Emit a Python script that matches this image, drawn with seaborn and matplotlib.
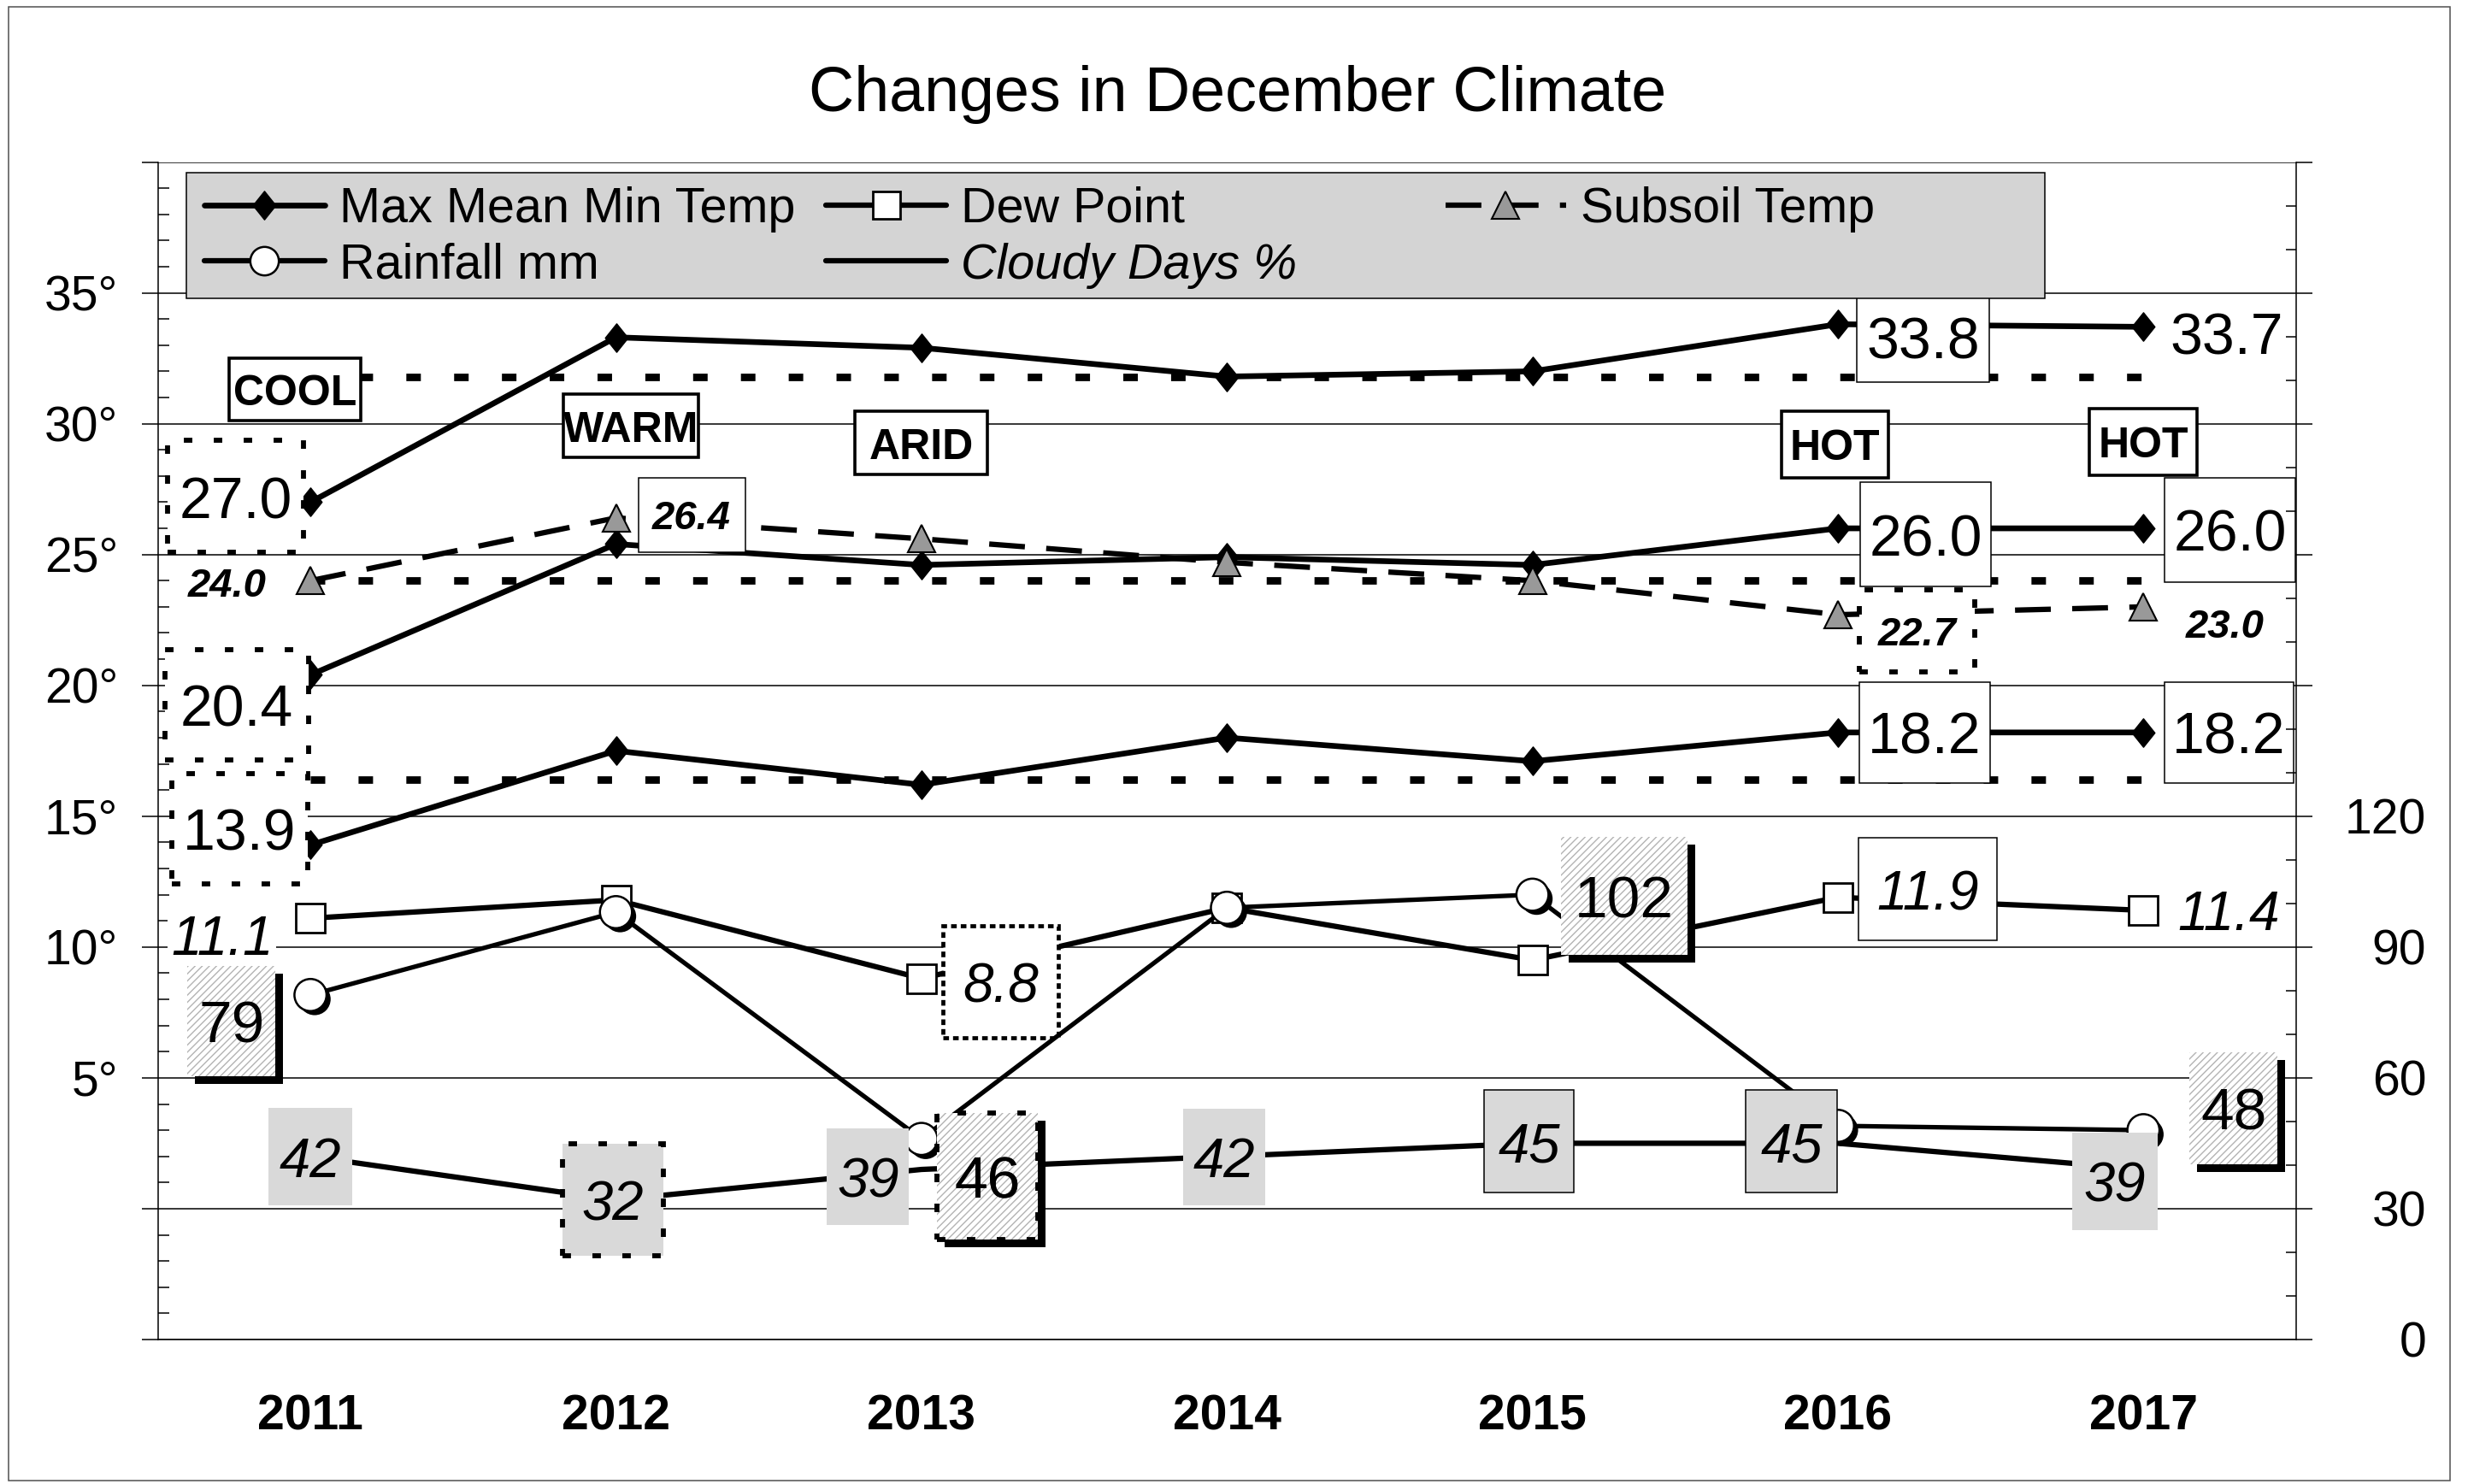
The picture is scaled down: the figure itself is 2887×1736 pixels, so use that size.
import numpy as np
import pandas as pd
import matplotlib
matplotlib.use("Agg")
import matplotlib.pyplot as plt
import seaborn as sns
from matplotlib.lines import Line2D
from matplotlib.path import Path
from matplotlib.patches import Rectangle
from matplotlib.ticker import MultipleLocator
import matplotlib.patheffects as pe

# ---------------- data ----------------
years = ["2011", "2012", "2013", "2014", "2015", "2016", "2017"]
max_temp = [27.0, 33.3, 32.9, 31.8, 32.0, 33.8, 33.7]
mean_temp = [20.4, 25.4, 24.6, 24.9, 24.6, 26.0, 26.0]
min_temp = [13.9, 17.5, 16.2, 18.0, 17.1, 18.2, 18.2]
subsoil_temp = [24.0, 26.4, 25.6, 24.7, 24.0, 22.7, 23.0]
dew_point = [11.1, 11.8, 8.8, 11.5, 9.5, 11.9, 11.4]
rainfall_mm = [79, 98, 46, 99, 102, 49, 48]
cloudy_pct = [42, 32, 39, 42, 45, 45, 39]
normal_levels = [31.8, 24.0, 16.4]
season_tags = ["COOL", "WARM", "ARID", "HOT", "HOT"]
left_tick_values = [-5, 0, 5, 10, 15, 20, 25, 30, 35, 40]
left_tick_labels = ["", "", "5°", "10°", "15°", "20°", "25°", "30°", "35°", ""]
right_tick_values = [0, 30, 60, 90, 120, 150, 180, 210, 240, 270]
right_tick_labels = ["0", "30", "60", "90", "120", "", "", "", "", ""]
legend_labels = ["Max Mean Min Temp", "Rainfall mm", "Dew Point", "Cloudy Days %", "Subsoil Temp"]
title = "Changes in December Climate"

# ---------------- style ----------------
sns.set_theme(style="white")
plt.rcParams["font.family"] = ["Liberation Sans", "DejaVu Sans"]
plt.rcParams["text.color"] = "black"
plt.rcParams["axes.edgecolor"] = "black"
plt.rcParams["xtick.color"] = "black"
plt.rcParams["ytick.color"] = "black"
plt.rcParams["hatch.linewidth"] = 1.0
plt.rcParams["patch.force_edgecolor"] = False

FW, FH = 2887, 1736
fig = plt.figure(figsize=(FW / 100, FH / 100), dpi=100, facecolor="white")
L, R, T, B = 184.5, 2686, 189.5, 1567
ax = fig.add_axes([L / FW, 1 - B / FH, (R - L) / FW, (B - T) / FH])
ax.set_facecolor("white")
ax2 = ax.twinx()
x = np.arange(len(years))

# ---------------- series ----------------
diamond = Path([(0, 1), (0.8, 0), (0, -1), (-0.8, 0), (0, 1)],
               [Path.MOVETO, Path.LINETO, Path.LINETO, Path.LINETO, Path.CLOSEPOLY])
temp_kw = dict(color="black", linewidth=4.8, marker=diamond, markersize=24,
               markerfacecolor="black", markeredgecolor="black", markeredgewidth=1, zorder=3)

ax.hlines(normal_levels, x[0], x[-1], colors="black", linewidth=6.3,
          linestyles=[(0, (1.94, 4.45))], zorder=2.5)

for series in (max_temp, mean_temp, min_temp):
    sns.lineplot(x=x, y=series, ax=ax, legend=False, **temp_kw)

sns.lineplot(x=x, y=dew_point, ax=ax, legend=False, color="black", linewidth=4.5,
             marker="s", markersize=24, markerfacecolor="white", markeredgecolor="black",
             markeredgewidth=2, zorder=3)

sns.lineplot(x=x, y=subsoil_temp, ax=ax, legend=False, color="black", linewidth=4.5,
             marker="^", markersize=23, markerfacecolor="#999999", markeredgecolor="black",
             markeredgewidth=1.5, zorder=3)
ax.lines[-1].set_linestyle((0, (6.7, 4.0)))

sns.lineplot(x=x, y=cloudy_pct, ax=ax2, legend=False, color="black", linewidth=4.5, zorder=3)
sns.lineplot(x=x, y=rainfall_mm, ax=ax2, legend=False, color="black", linewidth=3.8, zorder=3)
sns.scatterplot(x=x, y=rainfall_mm, ax=ax2, legend=False, marker="o", s=27 ** 2,
                color="white", edgecolor="black", linewidth=1.8, zorder=4)
ax2.collections[-1].set_path_effects([
    pe.SimplePatchShadow(offset=(3.5, -3.5), shadow_rgbFace="black", alpha=1.0),
    pe.Normal()])

# ---------------- axes ----------------
ax.set_xlim(-0.5, len(years) - 0.5)
ax.set_ylim(-5, 40)
ax2.set_ylim(0, 270)

ax.set_xticks(x)
ax.set_xticklabels(years, fontweight="bold")
ax.set_xticks(np.arange(-0.5, len(years) + 0.5), minor=True)
ax.tick_params(axis="x", which="major", length=0, pad=46, labelsize=41)
ax.tick_params(axis="x", which="minor", length=13.3, width=1.1, direction="out")

ax.set_yticks(left_tick_values)
ax.set_yticklabels(left_tick_labels)
ax.yaxis.set_minor_locator(MultipleLocator(1))
ax.tick_params(axis="y", which="major", direction="out", length=13.5, width=1.1, pad=20, labelsize=41)
ax.tick_params(axis="y", which="minor", direction="in", length=9, width=1.1)

ax2.set_yticks(right_tick_values)
ax2.set_yticklabels(right_tick_labels, ha="right")
ax2.yaxis.set_minor_locator(MultipleLocator(10))
ax2.tick_params(axis="y", which="major", direction="out", length=13.7, width=1.1, pad=96, labelsize=41)
ax2.tick_params(axis="y", which="minor", direction="in", length=9, width=1.1)

ax.yaxis.grid(True, which="major", color="black", linewidth=1.1)
ax.xaxis.grid(False)
ax2.grid(False)
ax.set_axisbelow(True)
for s in ("top", "right"):
    ax.spines[s].set_visible(False)
for s in ("left", "bottom"):
    ax.spines[s].set_linewidth(1.1)
    ax.spines[s].set_color("black")
for s in ("top", "left", "bottom"):
    ax2.spines[s].set_visible(False)
ax2.spines["right"].set_linewidth(1.1)
ax2.spines["right"].set_color("black")
ax.set_xlabel("")
ax.set_ylabel("")
ax2.set_ylabel("")


# ---------------- data labels ----------------
def fixed_box(W, H):
    def _style(x0, y0, width, height, mutation_size):
        cx = x0 + width / 2.0
        cy = y0 + height / 2.0 + 0.105 * mutation_size
        verts = [(cx - W / 2, cy - H / 2), (cx + W / 2, cy - H / 2),
                 (cx + W / 2, cy + H / 2), (cx - W / 2, cy + H / 2), (cx - W / 2, cy - H / 2)]
        return Path(verts, [Path.MOVETO, Path.LINETO, Path.LINETO, Path.LINETO, Path.CLOSEPOLY])
    return _style


GRAY = "#d9d9d9"
HATCH_GRAY = "#b3b3b3"
DOTS = (0, (1.7, 4.3))
shadow = [pe.SimplePatchShadow(offset=(6.5, -6.5), shadow_rgbFace="black", alpha=1.0, hatch=None),
          pe.Normal()]


def box_props(kind, W, H):
    if kind == "none":
        return dict(boxstyle="square,pad=0.06", fc="white", ec="none")
    if kind == "thin":
        return dict(boxstyle=fixed_box(W, H), fc="white", ec="black", lw=1.1)
    if kind == "dotted":
        return dict(boxstyle=fixed_box(W, H), fc="white", ec="black", lw=4.2, ls=DOTS)
    if kind == "dashbw":
        return dict(boxstyle=fixed_box(W, H), fc="white", ec="black", lw=3.4, ls=(0, (1.4, 1.0)))
    if kind in ("hatch", "hatchdot"):
        # edge colour drives the hatch colour; zero width keeps the edge itself invisible
        return dict(boxstyle=fixed_box(W, H), fc="white", ec=HATCH_GRAY, lw=0, hatch="////",
                    path_effects=shadow)
    if kind == "gray":
        return dict(boxstyle=fixed_box(W, H), fc=GRAY, ec="none")
    if kind == "graythin":
        return dict(boxstyle=fixed_box(W, H), fc=GRAY, ec="black", lw=1.1)
    if kind == "graydot":
        return dict(boxstyle=fixed_box(W, H), fc=GRAY, ec="black", lw=4.2, ls=DOTS)


series_info = {
    "max": (ax, max_temp, "{:.1f}", dict(fontsize=49)),
    "mean": (ax, mean_temp, "{:.1f}", dict(fontsize=49)),
    "min": (ax, min_temp, "{:.1f}", dict(fontsize=49)),
    "sub": (ax, subsoil_temp, "{:.1f}", dict(fontsize=34, fontweight="bold", fontstyle="italic")),
    "dew": (ax, dew_point, "{:.1f}", dict(fontsize=46, fontstyle="italic")),
    "rain": (ax2, rainfall_mm, "{:d}", dict(fontsize=50)),
    "cloud": (ax2, cloudy_pct, "{:d}", dict(fontsize=47, fontstyle="italic")),
}

label_specs = [
    ("max", 0, -63, 4.6, "dotted", 159, 131),
    ("max", 5, 72, -10.6, "thin", 155, 107),
    ("max", 6, 70, -5.3, "none", 0, 0),
    ("mean", 0, -62.4, -25.2, "dotted", 168, 129),
    ("mean", 5, 73.7, -5.3, "thin", 153, 122),
    ("mean", 6, 73, -1.3, "thin", 153, 122),
    ("min", 0, -59.8, 13.3, "dotted", 159, 129),
    ("min", 5, 73, 0, "thin", 153, 118),
    ("min", 6, 72, 0, "thin", 151, 118),
    ("sub", 0, -70.4, -1.3, "none", 0, 0),
    ("sub", 1, 63.8, 2.7, "thin", 125, 87),
    ("sub", 5, 66.4, -13.3, "dotted", 135, 96),
    ("sub", 6, 69, -14, "none", 0, 0),
    ("dew", 0, -74.4, -14, "none", 0, 0),
    ("dew", 2, 67, -3.3, "dashbw", 135, 131),
    ("dew", 5, 75.7, 6.6, "thin", 162, 120),
    ("dew", 6, 71.7, 0, "none", 0, 0),
    ("rain", 0, -66.4, -21.9, "hatch", 103, 129),
    ("rain", 2, 55.8, -31.9, "hatchdot", 118, 148),
    ("rain", 4, 77, -1.3, "hatch", 148, 138),
    ("rain", 6, 76, 18.5, "hatch", 103, 131),
    ("cloud", 0, 0, -0.7, "gray", 98, 114),
    ("cloud", 1, -2.7, 0, "graydot", 118, 131),
    ("cloud", 2, -45, -6.6, "gray", 96, 113),
    ("cloud", 3, -2.7, -0.7, "gray", 96, 113),
    ("cloud", 4, -2.7, 1.3, "graythin", 105, 120),
    ("cloud", 5, -39.3, 1.3, "graythin", 107, 120),
    ("cloud", 6, -24, -10.2, "gray", 100, 114),
]

for key, i, dx, dy, kind, W, H in label_specs:
    a, vals, fmt, fkw = series_info[key]
    txt = fmt.format(vals[i])
    a.annotate(txt, xy=(x[i], vals[i]), xytext=(dx, dy), textcoords="offset points",
               ha="center", va="center_baseline", zorder=6, annotation_clip=False,
               bbox=box_props(kind, W, H), **fkw)
    if kind == "hatchdot":
        a.annotate(txt, xy=(x[i], vals[i]), xytext=(dx, dy), textcoords="offset points",
                   ha="center", va="center_baseline", zorder=6.1, annotation_clip=False,
                   bbox=dict(boxstyle=fixed_box(W, H), fc="none", ec="black", lw=4.2, ls=DOTS),
                   **fkw)

# season tags (annotation positions in data coordinates of the temperature axis)
tag_pos = [(-0.05, 31.3), (1.05, 29.9), (2.0, 29.25), (4.99, 29.2), (6.0, 29.3)]
tag_box = [(154, 73), (158, 74), (155, 74), (125, 78), (126, 78)]
for tag, (tx, ty), (W, H) in zip(season_tags, tag_pos, tag_box):
    ax.text(tx, ty, tag, ha="center", va="center_baseline", fontsize=36, fontweight="bold",
            family=["Liberation Sans Narrow", "Liberation Sans"], zorder=6,
            bbox=dict(boxstyle=fixed_box(W, H), fc="white", ec="black", lw=2.6))

# ---------------- legend ----------------
fig.add_artist(Rectangle((218 / FW, 1 - 349 / FH), (2392 - 218) / FW, 147 / FH,
                         transform=fig.transFigure, fc="#d4d4d4", ec="black", lw=1.1, zorder=1))
h_temp = Line2D([], [], **temp_kw)
h_rain = Line2D([], [], color="black", linewidth=4.5, marker="o", markersize=24,
                markerfacecolor="white", markeredgecolor="black", markeredgewidth=1.8)
h_dew = Line2D([], [], color="black", linewidth=4.5, marker="s", markersize=23,
               markerfacecolor="white", markeredgecolor="black", markeredgewidth=2)
h_cloud = Line2D([], [], color="black", linewidth=4.5)
h_sub = Line2D([], [], color="black", linewidth=4.5, linestyle=(0, (6.7, 4.0)), marker="^",
               markersize=23, markerfacecolor="#999999", markeredgecolor="black", markeredgewidth=1.5)
leg_kw = dict(loc="upper left", frameon=False, fontsize=41.4, handlelength=2.45, handletextpad=0.3,
              columnspacing=0.62, labelspacing=0.2, borderpad=0, borderaxespad=0)
legA = fig.legend(handles=[h_temp, h_rain, h_dew, h_cloud], labels=legend_labels[:4], ncol=2,
                  bbox_to_anchor=(239 / FW, 1 - 218 / FH), **leg_kw)
legA.get_texts()[3].set_fontstyle("italic")
legB = fig.legend(handles=[h_sub], labels=legend_labels[4:],
                  bbox_to_anchor=(1691 / FW, 1 - 218 / FH), **leg_kw)

# ---------------- title & border ----------------
fig.text(0.5016, 0.9405, title, ha="center", va="center_baseline", fontsize=53)
fig.add_artist(Rectangle((10 / FW, 4 / FH), (2866 - 10) / FW, (1732 - 8) / FH,
                         transform=fig.transFigure, fill=False, ec="#505050", lw=1.1, zorder=10))

fig.savefig("out.png", dpi=100, facecolor="white")
